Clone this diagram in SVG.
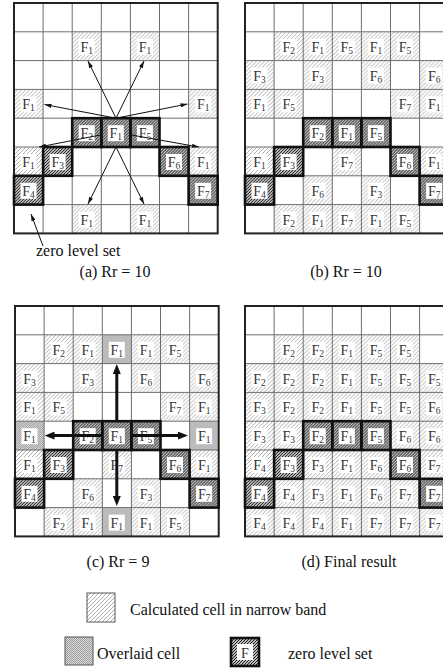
<svg xmlns="http://www.w3.org/2000/svg" xmlns:xlink="http://www.w3.org/1999/xlink" width="443" height="668" viewBox="0 0 443 668">
<style>
.t{font-family:'Liberation Serif',serif;font-size:14px;text-anchor:middle;fill:#333}
.t tspan{font-size:9.5px;baseline-shift:-1.5px}
.cap{font-family:'Liberation Serif',serif;font-size:16px;fill:#111}
.ar{fill:none;stroke:#111;stroke-width:1}
.ta{fill:none;stroke:#111;stroke-width:3}
.zb{fill:none;stroke:#111;stroke-width:2.6}
</style>
<defs>
<pattern id="lh" width="4" height="4" patternUnits="userSpaceOnUse"><path d="M-1,1L1,-1M0,4L4,0M3,5L5,3" stroke="#9a9a9a" stroke-width="0.8"/></pattern>
<pattern id="dh" width="3" height="3" patternUnits="userSpaceOnUse"><path d="M-1,1L1,-1M0,3L3,0M2,4L4,2" stroke="#111" stroke-width="1.1"/></pattern>
<pattern id="ov" width="2" height="2" patternUnits="userSpaceOnUse"><rect width="2" height="2" fill="#dcdcdc"/><rect width="1" height="1" fill="#9a9a9a"/><rect x="1" y="1" width="1" height="1" fill="#9a9a9a"/></pattern>
<g id="L"><rect width="29.1" height="28.8" fill="url(#lh)"/><rect x="6.5" y="7" width="16" height="16" fill="#fff"/></g>
<g id="D"><rect width="29.1" height="28.8" fill="url(#dh)"/><rect x="6.5" y="7" width="16" height="16" fill="#fff"/></g>
<g id="O"><rect width="29.1" height="28.8" fill="url(#ov)"/><rect x="6.5" y="7" width="16" height="16" fill="#fff"/></g>
<rect id="Z" width="29.1" height="28.8" class="zb"/>
<g id="grid"><path d="M29.1,0V230.4M58.2,0V230.4M87.3,0V230.4M116.4,0V230.4M145.5,0V230.4M174.6,0V230.4M0,28.8H203.7M0,57.6H203.7M0,86.4H203.7M0,115.2H203.7M0,144H203.7M0,172.8H203.7M0,201.6H203.7" fill="none" stroke="#6e6e6e" stroke-width="1"/><rect width="203.7" height="230.4" fill="none" stroke="#222" stroke-width="2"/></g>
<marker id="ah" viewBox="0 0 10 6" refX="10" refY="3" markerWidth="7" markerHeight="4.2" markerUnits="userSpaceOnUse" orient="auto"><path d="M0,0L10,3L0,6z" fill="#111"/></marker>
<marker id="bh" viewBox="0 0 10 8" refX="4" refY="4" markerWidth="10" markerHeight="8" markerUnits="userSpaceOnUse" orient="auto"><path d="M0,0L10,4L0,8z" fill="#111"/></marker>
</defs>
<rect width="443" height="668" fill="#fff"/>

<!-- Grid A -->
<g id="gridA" transform="translate(14,3)">
<g id="a-r1c2"><use href="#L" x="58.2" y="28.8"/><text class="t" x="72.75" y="48.8">F<tspan>1</tspan></text></g>
<g id="a-r1c4"><use href="#L" x="116.4" y="28.8"/><text class="t" x="130.95" y="48.8">F<tspan>1</tspan></text></g>
<g id="a-r3c0"><use href="#L" x="0" y="86.4"/><text class="t" x="14.55" y="106.4">F<tspan>1</tspan></text></g>
<g id="a-r3c6"><use href="#L" x="174.6" y="86.4"/><text class="t" x="189.15" y="106.4">F<tspan>1</tspan></text></g>
<g id="a-r5c0"><use href="#L" x="0" y="144"/><text class="t" x="14.55" y="164">F<tspan>1</tspan></text></g>
<g id="a-r5c6"><use href="#L" x="174.6" y="144"/><text class="t" x="189.15" y="164">F<tspan>1</tspan></text></g>
<g id="a-r7c2"><use href="#L" x="58.2" y="201.6"/><text class="t" x="72.75" y="221.6">F<tspan>1</tspan></text></g>
<g id="a-r7c4"><use href="#L" x="116.4" y="201.6"/><text class="t" x="130.95" y="221.6">F<tspan>1</tspan></text></g>
<g id="a-r4c2"><use href="#D" x="58.2" y="115.2"/><text class="t" x="72.75" y="135.2">F<tspan>2</tspan></text></g>
<g id="a-r4c3"><use href="#D" x="87.3" y="115.2"/><text class="t" x="101.85" y="135.2">F<tspan>1</tspan></text></g>
<g id="a-r4c4"><use href="#D" x="116.4" y="115.2"/><text class="t" x="130.95" y="135.2">F<tspan>5</tspan></text></g>
<g id="a-r5c1"><use href="#D" x="29.1" y="144"/><text class="t" x="43.65" y="164">F<tspan>3</tspan></text></g>
<g id="a-r5c5"><use href="#D" x="145.5" y="144"/><text class="t" x="160.05" y="164">F<tspan>6</tspan></text></g>
<g id="a-r6c0"><use href="#D" x="0" y="172.8"/><text class="t" x="14.55" y="192.8">F<tspan>4</tspan></text></g>
<g id="a-r6c6"><use href="#D" x="174.6" y="172.8"/><text class="t" x="189.15" y="192.8">F<tspan>7</tspan></text></g>
<use href="#grid"/>
<use href="#Z" x="58.2" y="115.2"/><use href="#Z" x="87.3" y="115.2"/><use href="#Z" x="116.4" y="115.2"/><use href="#Z" x="29.1" y="144"/><use href="#Z" x="145.5" y="144"/><use href="#Z" x="0" y="172.8"/><use href="#Z" x="174.6" y="172.8"/>
</g>

<!-- Grid B -->
<g id="gridB" transform="translate(245,3)">
<g id="b-r1c1"><use href="#L" x="29.1" y="28.8"/><text class="t" x="43.65" y="48.8">F<tspan>2</tspan></text></g>
<g id="b-r1c2"><use href="#L" x="58.2" y="28.8"/><text class="t" x="72.75" y="48.8">F<tspan>1</tspan></text></g>
<g id="b-r1c3"><use href="#L" x="87.3" y="28.8"/><text class="t" x="101.85" y="48.8">F<tspan>5</tspan></text></g>
<g id="b-r1c4"><use href="#L" x="116.4" y="28.8"/><text class="t" x="130.95" y="48.8">F<tspan>1</tspan></text></g>
<g id="b-r1c5"><use href="#L" x="145.5" y="28.8"/><text class="t" x="160.05" y="48.8">F<tspan>5</tspan></text></g>
<g id="b-r2c0"><use href="#L" x="0" y="57.6"/><text class="t" x="14.55" y="77.6">F<tspan>3</tspan></text></g>
<g id="b-r2c2"><use href="#L" x="58.2" y="57.6"/><text class="t" x="72.75" y="77.6">F<tspan>3</tspan></text></g>
<g id="b-r2c4"><use href="#L" x="116.4" y="57.6"/><text class="t" x="130.95" y="77.6">F<tspan>6</tspan></text></g>
<g id="b-r2c6"><use href="#L" x="174.6" y="57.6"/><text class="t" x="189.15" y="77.6">F<tspan>6</tspan></text></g>
<g id="b-r3c0"><use href="#L" x="0" y="86.4"/><text class="t" x="14.55" y="106.4">F<tspan>1</tspan></text></g>
<g id="b-r3c1"><use href="#L" x="29.1" y="86.4"/><text class="t" x="43.65" y="106.4">F<tspan>5</tspan></text></g>
<g id="b-r3c5"><use href="#L" x="145.5" y="86.4"/><text class="t" x="160.05" y="106.4">F<tspan>7</tspan></text></g>
<g id="b-r3c6"><use href="#L" x="174.6" y="86.4"/><text class="t" x="189.15" y="106.4">F<tspan>1</tspan></text></g>
<g id="b-r5c0"><use href="#L" x="0" y="144"/><text class="t" x="14.55" y="164">F<tspan>1</tspan></text></g>
<g id="b-r5c3"><use href="#L" x="87.3" y="144"/><text class="t" x="101.85" y="164">F<tspan>7</tspan></text></g>
<g id="b-r5c6"><use href="#L" x="174.6" y="144"/><text class="t" x="189.15" y="164">F<tspan>1</tspan></text></g>
<g id="b-r6c2"><use href="#L" x="58.2" y="172.8"/><text class="t" x="72.75" y="192.8">F<tspan>6</tspan></text></g>
<g id="b-r6c4"><use href="#L" x="116.4" y="172.8"/><text class="t" x="130.95" y="192.8">F<tspan>3</tspan></text></g>
<g id="b-r7c1"><use href="#L" x="29.1" y="201.6"/><text class="t" x="43.65" y="221.6">F<tspan>2</tspan></text></g>
<g id="b-r7c2"><use href="#L" x="58.2" y="201.6"/><text class="t" x="72.75" y="221.6">F<tspan>1</tspan></text></g>
<g id="b-r7c3"><use href="#L" x="87.3" y="201.6"/><text class="t" x="101.85" y="221.6">F<tspan>7</tspan></text></g>
<g id="b-r7c4"><use href="#L" x="116.4" y="201.6"/><text class="t" x="130.95" y="221.6">F<tspan>1</tspan></text></g>
<g id="b-r7c5"><use href="#L" x="145.5" y="201.6"/><text class="t" x="160.05" y="221.6">F<tspan>5</tspan></text></g>
<g id="b-r4c2"><use href="#D" x="58.2" y="115.2"/><text class="t" x="72.75" y="135.2">F<tspan>2</tspan></text></g>
<g id="b-r4c3"><use href="#D" x="87.3" y="115.2"/><text class="t" x="101.85" y="135.2">F<tspan>1</tspan></text></g>
<g id="b-r4c4"><use href="#D" x="116.4" y="115.2"/><text class="t" x="130.95" y="135.2">F<tspan>5</tspan></text></g>
<g id="b-r5c1"><use href="#D" x="29.1" y="144"/><text class="t" x="43.65" y="164">F<tspan>3</tspan></text></g>
<g id="b-r5c5"><use href="#D" x="145.5" y="144"/><text class="t" x="160.05" y="164">F<tspan>6</tspan></text></g>
<g id="b-r6c0"><use href="#D" x="0" y="172.8"/><text class="t" x="14.55" y="192.8">F<tspan>4</tspan></text></g>
<g id="b-r6c6"><use href="#D" x="174.6" y="172.8"/><text class="t" x="189.15" y="192.8">F<tspan>7</tspan></text></g>
<use href="#grid"/>
<use href="#Z" x="58.2" y="115.2"/><use href="#Z" x="87.3" y="115.2"/><use href="#Z" x="116.4" y="115.2"/><use href="#Z" x="29.1" y="144"/><use href="#Z" x="145.5" y="144"/><use href="#Z" x="0" y="172.8"/><use href="#Z" x="174.6" y="172.8"/>
</g>

<!-- Grid C -->
<g id="gridC" transform="translate(15,306)">
<g id="c-r1c1"><use href="#L" x="29.1" y="28.8"/><text class="t" x="43.65" y="48.8">F<tspan>2</tspan></text></g>
<g id="c-r1c2"><use href="#L" x="58.2" y="28.8"/><text class="t" x="72.75" y="48.8">F<tspan>1</tspan></text></g>
<g id="c-r1c3"><use href="#O" x="87.3" y="28.8"/><text class="t" x="101.85" y="48.8">F<tspan>1</tspan></text></g>
<g id="c-r1c4"><use href="#L" x="116.4" y="28.8"/><text class="t" x="130.95" y="48.8">F<tspan>1</tspan></text></g>
<g id="c-r1c5"><use href="#L" x="145.5" y="28.8"/><text class="t" x="160.05" y="48.8">F<tspan>5</tspan></text></g>
<g id="c-r2c0"><use href="#L" x="0" y="57.6"/><text class="t" x="14.55" y="77.6">F<tspan>3</tspan></text></g>
<g id="c-r2c2"><use href="#L" x="58.2" y="57.6"/><text class="t" x="72.75" y="77.6">F<tspan>3</tspan></text></g>
<g id="c-r2c4"><use href="#L" x="116.4" y="57.6"/><text class="t" x="130.95" y="77.6">F<tspan>6</tspan></text></g>
<g id="c-r2c6"><use href="#L" x="174.6" y="57.6"/><text class="t" x="189.15" y="77.6">F<tspan>6</tspan></text></g>
<g id="c-r3c0"><use href="#L" x="0" y="86.4"/><text class="t" x="14.55" y="106.4">F<tspan>1</tspan></text></g>
<g id="c-r3c1"><use href="#L" x="29.1" y="86.4"/><text class="t" x="43.65" y="106.4">F<tspan>5</tspan></text></g>
<g id="c-r3c5"><use href="#L" x="145.5" y="86.4"/><text class="t" x="160.05" y="106.4">F<tspan>7</tspan></text></g>
<g id="c-r3c6"><use href="#L" x="174.6" y="86.4"/><text class="t" x="189.15" y="106.4">F<tspan>1</tspan></text></g>
<g id="c-r4c0"><use href="#O" x="0" y="115.2"/><text class="t" x="14.55" y="135.2">F<tspan>1</tspan></text></g>
<g id="c-r4c6"><use href="#O" x="174.6" y="115.2"/><text class="t" x="189.15" y="135.2">F<tspan>1</tspan></text></g>
<g id="c-r5c0"><use href="#L" x="0" y="144"/><text class="t" x="14.55" y="164">F<tspan>1</tspan></text></g>
<g id="c-r5c3"><use href="#L" x="87.3" y="144"/><text class="t" x="101.85" y="164">F<tspan>7</tspan></text></g>
<g id="c-r5c6"><use href="#L" x="174.6" y="144"/><text class="t" x="189.15" y="164">F<tspan>1</tspan></text></g>
<g id="c-r6c2"><use href="#L" x="58.2" y="172.8"/><text class="t" x="72.75" y="192.8">F<tspan>6</tspan></text></g>
<g id="c-r6c4"><use href="#L" x="116.4" y="172.8"/><text class="t" x="130.95" y="192.8">F<tspan>3</tspan></text></g>
<g id="c-r7c1"><use href="#L" x="29.1" y="201.6"/><text class="t" x="43.65" y="221.6">F<tspan>2</tspan></text></g>
<g id="c-r7c2"><use href="#L" x="58.2" y="201.6"/><text class="t" x="72.75" y="221.6">F<tspan>1</tspan></text></g>
<g id="c-r7c3"><use href="#O" x="87.3" y="201.6"/><text class="t" x="101.85" y="221.6">F<tspan>1</tspan></text></g>
<g id="c-r7c4"><use href="#L" x="116.4" y="201.6"/><text class="t" x="130.95" y="221.6">F<tspan>1</tspan></text></g>
<g id="c-r7c5"><use href="#L" x="145.5" y="201.6"/><text class="t" x="160.05" y="221.6">F<tspan>5</tspan></text></g>
<g id="c-r4c2"><use href="#D" x="58.2" y="115.2"/><text class="t" x="72.75" y="135.2">F<tspan>2</tspan></text></g>
<g id="c-r4c3"><use href="#D" x="87.3" y="115.2"/><text class="t" x="101.85" y="135.2">F<tspan>1</tspan></text></g>
<g id="c-r4c4"><use href="#D" x="116.4" y="115.2"/><text class="t" x="130.95" y="135.2">F<tspan>5</tspan></text></g>
<g id="c-r5c1"><use href="#D" x="29.1" y="144"/><text class="t" x="43.65" y="164">F<tspan>3</tspan></text></g>
<g id="c-r5c5"><use href="#D" x="145.5" y="144"/><text class="t" x="160.05" y="164">F<tspan>6</tspan></text></g>
<g id="c-r6c0"><use href="#D" x="0" y="172.8"/><text class="t" x="14.55" y="192.8">F<tspan>4</tspan></text></g>
<g id="c-r6c6"><use href="#D" x="174.6" y="172.8"/><text class="t" x="189.15" y="192.8">F<tspan>7</tspan></text></g>
<use href="#grid"/>
<use href="#Z" x="58.2" y="115.2"/><use href="#Z" x="87.3" y="115.2"/><use href="#Z" x="116.4" y="115.2"/><use href="#Z" x="29.1" y="144"/><use href="#Z" x="145.5" y="144"/><use href="#Z" x="0" y="172.8"/><use href="#Z" x="174.6" y="172.8"/>
</g>

<!-- Grid D -->
<g id="gridD" transform="translate(245,306)">
<g id="d-r1c1"><use href="#L" x="29.1" y="28.8"/><text class="t" x="43.65" y="48.8">F<tspan>2</tspan></text></g>
<g id="d-r1c2"><use href="#L" x="58.2" y="28.8"/><text class="t" x="72.75" y="48.8">F<tspan>2</tspan></text></g>
<g id="d-r1c3"><use href="#L" x="87.3" y="28.8"/><text class="t" x="101.85" y="48.8">F<tspan>1</tspan></text></g>
<g id="d-r1c4"><use href="#L" x="116.4" y="28.8"/><text class="t" x="130.95" y="48.8">F<tspan>5</tspan></text></g>
<g id="d-r1c5"><use href="#L" x="145.5" y="28.8"/><text class="t" x="160.05" y="48.8">F<tspan>5</tspan></text></g>
<g id="d-r2c0"><use href="#L" x="0" y="57.6"/><text class="t" x="14.55" y="77.6">F<tspan>2</tspan></text></g>
<g id="d-r2c1"><use href="#L" x="29.1" y="57.6"/><text class="t" x="43.65" y="77.6">F<tspan>2</tspan></text></g>
<g id="d-r2c2"><use href="#L" x="58.2" y="57.6"/><text class="t" x="72.75" y="77.6">F<tspan>2</tspan></text></g>
<g id="d-r2c3"><use href="#L" x="87.3" y="57.6"/><text class="t" x="101.85" y="77.6">F<tspan>1</tspan></text></g>
<g id="d-r2c4"><use href="#L" x="116.4" y="57.6"/><text class="t" x="130.95" y="77.6">F<tspan>5</tspan></text></g>
<g id="d-r2c5"><use href="#L" x="145.5" y="57.6"/><text class="t" x="160.05" y="77.6">F<tspan>5</tspan></text></g>
<g id="d-r2c6"><use href="#L" x="174.6" y="57.6"/><text class="t" x="189.15" y="77.6">F<tspan>5</tspan></text></g>
<g id="d-r3c0"><use href="#L" x="0" y="86.4"/><text class="t" x="14.55" y="106.4">F<tspan>3</tspan></text></g>
<g id="d-r3c1"><use href="#L" x="29.1" y="86.4"/><text class="t" x="43.65" y="106.4">F<tspan>2</tspan></text></g>
<g id="d-r3c2"><use href="#L" x="58.2" y="86.4"/><text class="t" x="72.75" y="106.4">F<tspan>2</tspan></text></g>
<g id="d-r3c3"><use href="#L" x="87.3" y="86.4"/><text class="t" x="101.85" y="106.4">F<tspan>1</tspan></text></g>
<g id="d-r3c4"><use href="#L" x="116.4" y="86.4"/><text class="t" x="130.95" y="106.4">F<tspan>5</tspan></text></g>
<g id="d-r3c5"><use href="#L" x="145.5" y="86.4"/><text class="t" x="160.05" y="106.4">F<tspan>5</tspan></text></g>
<g id="d-r3c6"><use href="#L" x="174.6" y="86.4"/><text class="t" x="189.15" y="106.4">F<tspan>6</tspan></text></g>
<g id="d-r4c0"><use href="#L" x="0" y="115.2"/><text class="t" x="14.55" y="135.2">F<tspan>3</tspan></text></g>
<g id="d-r4c1"><use href="#L" x="29.1" y="115.2"/><text class="t" x="43.65" y="135.2">F<tspan>3</tspan></text></g>
<g id="d-r4c5"><use href="#L" x="145.5" y="115.2"/><text class="t" x="160.05" y="135.2">F<tspan>6</tspan></text></g>
<g id="d-r4c6"><use href="#L" x="174.6" y="115.2"/><text class="t" x="189.15" y="135.2">F<tspan>6</tspan></text></g>
<g id="d-r5c0"><use href="#L" x="0" y="144"/><text class="t" x="14.55" y="164">F<tspan>4</tspan></text></g>
<g id="d-r5c2"><use href="#L" x="58.2" y="144"/><text class="t" x="72.75" y="164">F<tspan>3</tspan></text></g>
<g id="d-r5c3"><use href="#L" x="87.3" y="144"/><text class="t" x="101.85" y="164">F<tspan>1</tspan></text></g>
<g id="d-r5c4"><use href="#L" x="116.4" y="144"/><text class="t" x="130.95" y="164">F<tspan>6</tspan></text></g>
<g id="d-r5c6"><use href="#L" x="174.6" y="144"/><text class="t" x="189.15" y="164">F<tspan>7</tspan></text></g>
<g id="d-r6c1"><use href="#L" x="29.1" y="172.8"/><text class="t" x="43.65" y="192.8">F<tspan>4</tspan></text></g>
<g id="d-r6c2"><use href="#L" x="58.2" y="172.8"/><text class="t" x="72.75" y="192.8">F<tspan>3</tspan></text></g>
<g id="d-r6c3"><use href="#L" x="87.3" y="172.8"/><text class="t" x="101.85" y="192.8">F<tspan>1</tspan></text></g>
<g id="d-r6c4"><use href="#L" x="116.4" y="172.8"/><text class="t" x="130.95" y="192.8">F<tspan>6</tspan></text></g>
<g id="d-r6c5"><use href="#L" x="145.5" y="172.8"/><text class="t" x="160.05" y="192.8">F<tspan>7</tspan></text></g>
<g id="d-r7c0"><use href="#L" x="0" y="201.6"/><text class="t" x="14.55" y="221.6">F<tspan>4</tspan></text></g>
<g id="d-r7c1"><use href="#L" x="29.1" y="201.6"/><text class="t" x="43.65" y="221.6">F<tspan>4</tspan></text></g>
<g id="d-r7c2"><use href="#L" x="58.2" y="201.6"/><text class="t" x="72.75" y="221.6">F<tspan>4</tspan></text></g>
<g id="d-r7c3"><use href="#L" x="87.3" y="201.6"/><text class="t" x="101.85" y="221.6">F<tspan>1</tspan></text></g>
<g id="d-r7c4"><use href="#L" x="116.4" y="201.6"/><text class="t" x="130.95" y="221.6">F<tspan>7</tspan></text></g>
<g id="d-r7c5"><use href="#L" x="145.5" y="201.6"/><text class="t" x="160.05" y="221.6">F<tspan>7</tspan></text></g>
<g id="d-r7c6"><use href="#L" x="174.6" y="201.6"/><text class="t" x="189.15" y="221.6">F<tspan>7</tspan></text></g>
<g id="d-r4c2"><use href="#D" x="58.2" y="115.2"/><text class="t" x="72.75" y="135.2">F<tspan>2</tspan></text></g>
<g id="d-r4c3"><use href="#D" x="87.3" y="115.2"/><text class="t" x="101.85" y="135.2">F<tspan>1</tspan></text></g>
<g id="d-r4c4"><use href="#D" x="116.4" y="115.2"/><text class="t" x="130.95" y="135.2">F<tspan>5</tspan></text></g>
<g id="d-r5c1"><use href="#D" x="29.1" y="144"/><text class="t" x="43.65" y="164">F<tspan>3</tspan></text></g>
<g id="d-r5c5"><use href="#D" x="145.5" y="144"/><text class="t" x="160.05" y="164">F<tspan>6</tspan></text></g>
<g id="d-r6c0"><use href="#D" x="0" y="172.8"/><text class="t" x="14.55" y="192.8">F<tspan>4</tspan></text></g>
<g id="d-r6c6"><use href="#D" x="174.6" y="172.8"/><text class="t" x="189.15" y="192.8">F<tspan>7</tspan></text></g>
<use href="#grid"/>
<use href="#Z" x="58.2" y="115.2"/><use href="#Z" x="87.3" y="115.2"/><use href="#Z" x="116.4" y="115.2"/><use href="#Z" x="29.1" y="144"/><use href="#Z" x="145.5" y="144"/><use href="#Z" x="0" y="172.8"/><use href="#Z" x="174.6" y="172.8"/>
</g>

<!-- Connectors -->
<g id="connectors">
<path class="ar" marker-end="url(#ah)" d="M116,118.2L88,61"/>
<path class="ar" marker-end="url(#ah)" d="M116,118.2L144,61"/>
<path class="ar" marker-end="url(#ah)" d="M116,118.2L44.5,104.5"/>
<path class="ar" marker-end="url(#ah)" d="M116,118.2L187.5,104"/>
<path class="ar" marker-end="url(#ah)" d="M101.3,134.8L39,147"/>
<path class="ar" marker-end="url(#ah)" d="M130.4,134.8L199,147"/>
<path class="ar" marker-end="url(#ah)" d="M116,147L88,204"/>
<path class="ar" marker-end="url(#ah)" d="M116,147L144,204"/>
<path class="ar" marker-end="url(#ah)" d="M43,246L31,214"/>
<path class="ta" marker-end="url(#bh)" d="M116.8,421.2V370"/>
<path class="ta" marker-end="url(#bh)" d="M116.8,450V500"/>
<path class="ta" marker-end="url(#bh)" d="M102.3,435.6H50.5"/>
<path class="ta" marker-end="url(#bh)" d="M131.4,435.6H182"/>
</g>

<!-- Captions -->
<g id="captions">
<text class="cap" x="36" y="256">zero level set</text>
<text class="cap" x="115" y="276.5" text-anchor="middle">(a) Rr = 10</text>
<text class="cap" x="346" y="276.5" text-anchor="middle">(b) Rr = 10</text>
<text class="cap" x="118" y="567" text-anchor="middle">(c) Rr = 9</text>
<text class="cap" x="349" y="567" text-anchor="middle">(d) Final result</text>
</g>

<!-- Legend -->
<g id="legend">
<g id="leg-calc"><rect x="87" y="593" width="28" height="29" fill="url(#lh)" stroke="#555" stroke-width="1"/><text class="cap" x="130" y="615">Calculated cell in narrow band</text></g>
<g id="leg-over"><rect x="65" y="637" width="28" height="28" fill="url(#ov)" stroke="#555" stroke-width="1"/><text class="cap" x="97" y="659">Overlaid cell</text></g>
<g id="leg-zero"><rect x="231" y="638" width="28" height="28" fill="url(#dh)"/><rect x="237" y="644" width="16" height="16" fill="#fff"/><rect x="231" y="638" width="28" height="28" class="zb"/><text class="t" x="245" y="658">F</text><text class="cap" x="288" y="659">zero level set</text></g>
</g>
</svg>
